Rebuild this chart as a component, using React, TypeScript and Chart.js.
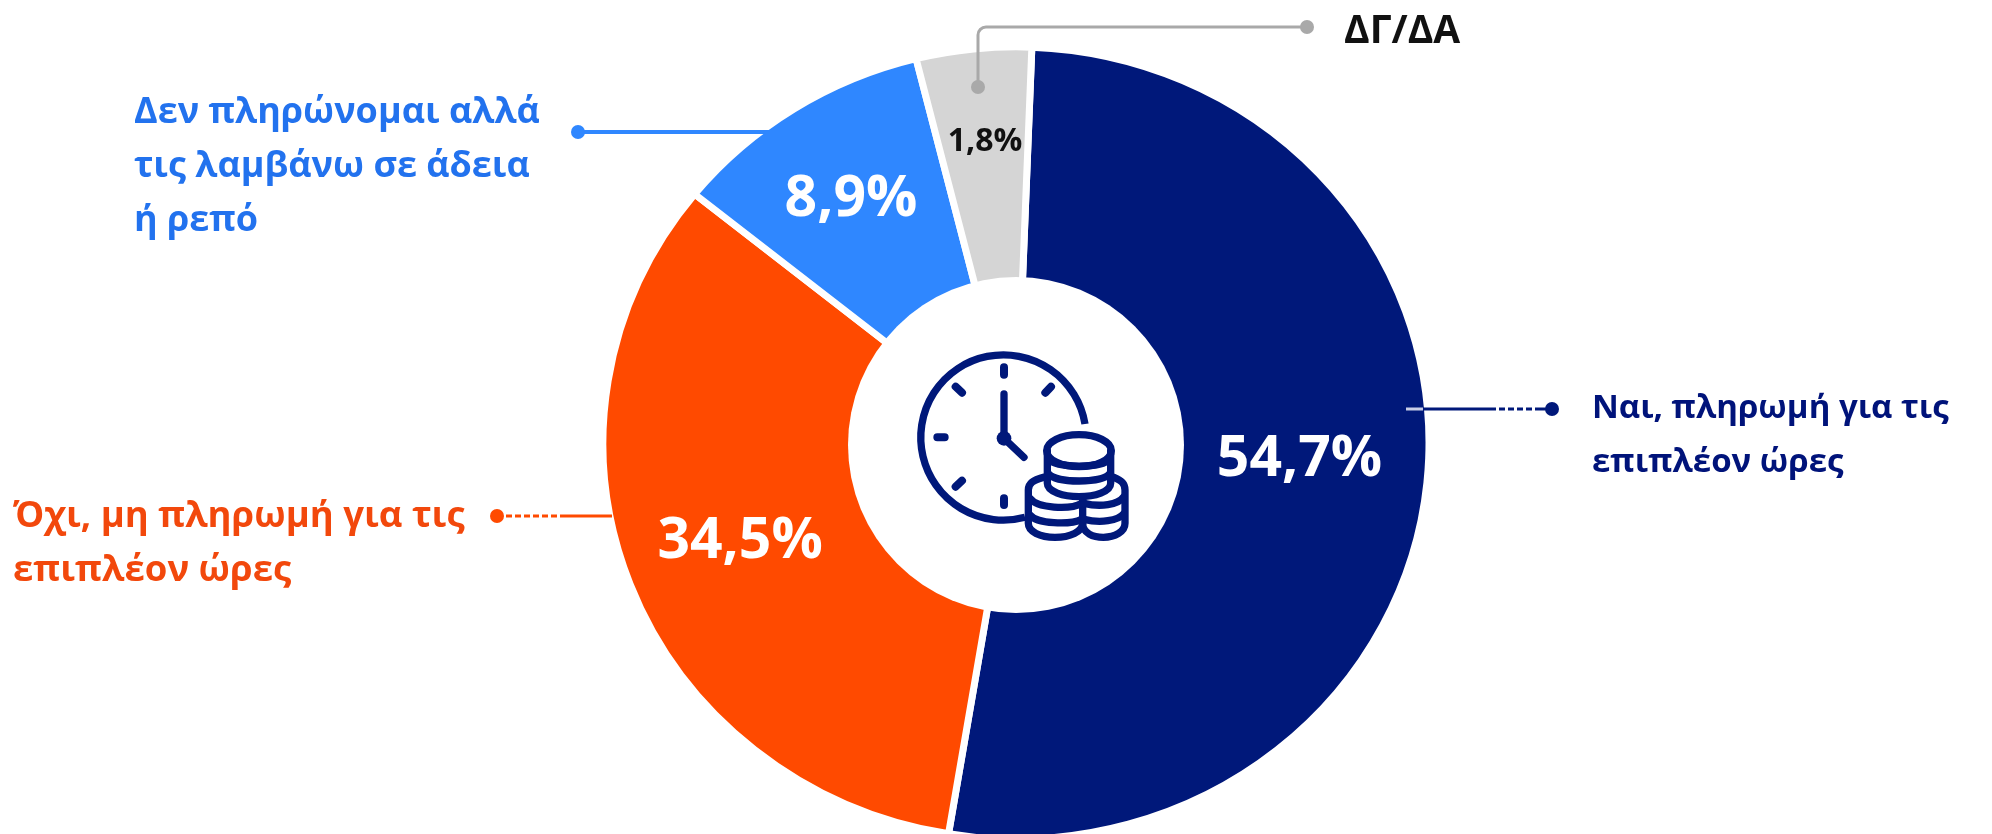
import React, { useEffect, useRef } from "react";
import { Chart, registerables } from "chart.js";

Chart.register(...registerables);

// Category names and the printed values
const categories = [
  "Ναι, πληρωμή για τις επιπλέον ώρες",
  "Όχι, μη πληρωμή για τις επιπλέον ώρες",
  "Δεν πληρώνομαι αλλά τις λαμβάνω σε άδεια ή ρεπό",
  "ΔΓ/ΔΑ",
];
const printedValues = ["54,7%", "34,5%", "8,9%", "1,8%"];
// Share of the ring each slice occupies in the picture (the artwork is not to scale with its printed numbers)
const drawnShares = [52.0, 33.2, 10.3, 4.5];
const sliceColors = ["#00187A", "#FF4A00", "#2F87FF", "#D5D5D5"];

const FONT = '"Open Sans", sans-serif';
const W = 1992;
const H = 834;
const OUTER_X = 413;
const OUTER_Y = 396;
const HOLE = 168;
const HOLE_DY = 2;

const valueStyles = [
  { size: 57, color: "#FFFFFF", dx: -7, dy: -13, weight: 700 },
  { size: 57, color: "#FFFFFF", dx: -3, dy: -5, weight: 700 },
  { size: 57, color: "#FFFFFF", dx: -8, dy: 3, weight: 700 },
  { size: 32, color: "#111111", dx: -1, dy: -11, weight: 700 },
];

const calloutText = [
  { lines: ["Ναι, πληρωμή για τις", "επιπλέον ώρες"], x: 1592, y: 409, size: 33, color: "#00137A" },
  { lines: ["Όχι, μη πληρωμή για τις", "επιπλέον ώρες"], x: 13, y: 517, size: 36.5, color: "#F2480C" },
  { lines: ["Δεν πληρώνομαι αλλά", "τις λαμβάνω σε άδεια", "ή ρεπό"], x: 134, y: 113, size: 36, color: "#2272EE" },
  { lines: ["ΔΓ/ΔΑ"], x: 1344, y: 32, size: 39, color: "#111111" },
];

const ringPlugin = {
  id: "ringPlugin",
  beforeDatasetsDraw(chart: any) {
    const { ctx, chartArea } = chart;
    const cy = (chartArea.top + chartArea.bottom) / 2;
    ctx.save();
    ctx.translate(0, cy);
    ctx.scale(1, OUTER_Y / OUTER_X);
    ctx.translate(0, -cy);
  },
  afterDatasetsDraw(chart: any) {
    const { ctx, chartArea } = chart;
    ctx.restore();
    const cx = (chartArea.left + chartArea.right) / 2;
    const cy = (chartArea.top + chartArea.bottom) / 2;

    // round hole
    ctx.save();
    ctx.fillStyle = "#FFFFFF";
    ctx.beginPath();
    ctx.arc(cx, cy + HOLE_DY, HOLE, 0, Math.PI * 2);
    ctx.fill();
    ctx.restore();

    // printed values, placed from the slices
    const arcs = chart.getDatasetMeta(0).data;
    ctx.save();
    ctx.textAlign = "center";
    ctx.textBaseline = "middle";
    arcs.forEach((arc: any, i: number) => {
      const mid = (arc.startAngle + arc.endAngle) / 2;
      const r = 292;
      const s = valueStyles[i];
      ctx.font = `${s.weight} ${s.size}px ${FONT}`;
      ctx.fillStyle = s.color;
      ctx.fillText(
        printedValues[i],
        cx + Math.cos(mid) * r + s.dx,
        cy + Math.sin(mid) * r + s.dy
      );
    });
    ctx.restore();

    // leader lines
    const line = (pts: number[][], color: string, dot: number[][], w = 3, dash: number[] = []) => {
      ctx.save();
      ctx.strokeStyle = color;
      ctx.fillStyle = color;
      ctx.lineWidth = w;
      ctx.setLineDash(dash);
      ctx.beginPath();
      pts.forEach((p, i) => (i ? ctx.lineTo(p[0], p[1]) : ctx.moveTo(p[0], p[1])));
      ctx.stroke();
      ctx.setLineDash([]);
      dot.forEach((d) => {
        ctx.beginPath();
        ctx.arc(d[0], d[1], 7, 0, Math.PI * 2);
        ctx.fill();
      });
      ctx.restore();
    };
    line([[1406, 409], [1423, 409]], "#C9CEE6", [], 3);
    line([[1423, 409], [1490, 409]], sliceColors[0], [], 3);
    line([[1490, 409], [1535, 409]], sliceColors[0], [], 3, [6, 3]);
    line([[1535, 409], [1552, 409]], sliceColors[0], [[1552, 409]], 3);
    line([[497, 516], [560, 516]], sliceColors[1], [[497, 516]], 3, [6, 3]);
    line([[560, 516], [612, 516]], sliceColors[1], [], 3);
    line([[578, 132], [772, 132]], sliceColors[2], [[578, 132]], 4);
    ctx.save();
    ctx.strokeStyle = "#A9A9A9";
    ctx.fillStyle = "#A9A9A9";
    ctx.lineWidth = 3;
    ctx.beginPath();
    ctx.moveTo(978, 87);
    ctx.lineTo(978, 35);
    ctx.arcTo(978, 27, 986, 27, 8);
    ctx.lineTo(1307, 27);
    ctx.stroke();
    [[978, 87], [1307, 27]].forEach((d) => {
      ctx.beginPath();
      ctx.arc(d[0], d[1], 7, 0, Math.PI * 2);
      ctx.fill();
    });
    ctx.restore();

    // category names
    ctx.save();
    ctx.textAlign = "left";
    ctx.textBaseline = "middle";
    calloutText.forEach((c) => {
      ctx.font = `700 ${c.size}px ${FONT}`;
      ctx.fillStyle = c.color;
      c.lines.forEach((t, i) => ctx.fillText(t, c.x, c.y + i * 54));
    });
    ctx.restore();
  },
};

function ClockIcon() {
  const stroke = "#00187A";
  return (
    <svg
      width={360}
      height={280}
      viewBox="0 0 1080 840"
      style={{ position: "absolute", left: 840, top: 320 }}
      fill="none"
      stroke={stroke}
      strokeWidth={22}
      strokeLinecap="round"
    >
      <path d="M735 312 A248 248 0 1 0 555 592" strokeLinecap="butt" />
      <path d="M492 142V164M492 535V555M292 352H314M347 200L366 218M633 200L616 218M347 500L366 482" strokeWidth={24} />
      <path d="M492 222V355L552 412" />
      <circle cx="492" cy="355" r="22" fill={stroke} stroke="none" />
      <ellipse cx="717" cy="392" rx="97" ry="48" />
      <path d="M622 392V490C622 515 670 530 717 530C765 530 812 515 812 490V392" />
      <path d="M626 418C650 445 785 445 808 418M626 462C650 490 785 490 808 462" />
      <path d="M610 472C580 480 565 490 565 510V610C565 635 600 652 645 652C690 652 728 635 728 610V530" />
      <path d="M570 535C590 565 690 570 725 550M570 585C590 612 690 615 725 598" />
      <path d="M822 472C845 482 855 490 855 510V610C855 635 825 652 790 652C760 652 728 640 728 610" />
      <path d="M732 550C780 562 835 555 852 530M732 598C780 610 835 603 852 580" />
    </svg>
  );
}

export default function App() {
  const ref = useRef<HTMLCanvasElement | null>(null);
  useEffect(() => {
    if (!ref.current) return;
    const chart = new Chart(ref.current, {
      type: "doughnut",
      data: {
        labels: categories,
        datasets: [
          {
            data: drawnShares,
            backgroundColor: sliceColors,
            borderColor: "#FFFFFF",
            borderWidth: 7,
            borderJoinStyle: "miter",
            clip: false,
          } as any,
        ],
      },
      options: {
        responsive: false,
        animation: false,
        rotation: 2.2,
        radius: OUTER_X,
        cutout: HOLE - 20,
        layout: { padding: { left: 40, top: 52 } },
        plugins: { legend: { display: false }, tooltip: { enabled: false } },
      } as any,
      plugins: [ringPlugin],
    });
    return () => chart.destroy();
  }, []);
  return (
    <div style={{ position: "absolute", left: 0, top: 0, width: W, height: H, background: "#FFFFFF", overflow: "hidden" }}>
      <canvas ref={ref} width={W} height={H} style={{ display: "block" }} />
      <ClockIcon />
    </div>
  );
}
